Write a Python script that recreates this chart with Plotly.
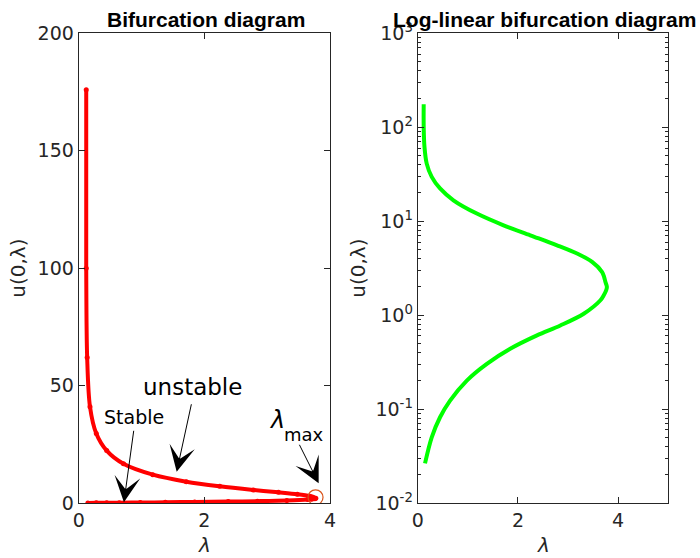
import plotly.graph_objects as go

# Branch: upper (unstable) branch -> fold -> lower (stable) branch
lam = [0.12, 0.12, 0.135, 0.18, 0.28, 0.446, 0.713, 1.18, 1.713, 2.246, 2.78,
       3.18, 3.48, 3.68, 3.72, 3.746, 3.775,
       3.76, 3.71, 3.646, 3.313, 2.846, 2.38, 1.846, 1.38, 0.98, 0.646, 0.446, 0.28, 0.146]
u0 = [176, 100, 62, 41, 29.6, 22.3, 16.7, 12.05, 9.04, 7.08, 5.54,
      4.52, 3.68, 2.87, 2.54, 2.25, 2.0,
      1.83, 1.62, 1.44, 1.035, 0.776, 0.608, 0.438, 0.303, 0.201, 0.123, 0.0818, 0.050, 0.0264]

lam_max = [3.77]
u_max = [2.4]

x_ticks_left = [0, 2, 4]
y_ticks_left = [0, 50, 100, 150, 200]
x_ticks_right = [0, 2, 4]
y_ticks_right = [0.01, 0.1, 1, 10, 100, 1000]
y_ticktext_right = ["10<sup>-2</sup>", "10<sup>-1</sup>", "10<sup>0</sup>",
                    "10<sup>1</sup>", "10<sup>2</sup>", "10<sup>3</sup>"]

FONT = "DejaVu Sans, sans-serif"
BFONT = "Liberation Sans, Arial, Helvetica, sans-serif"
AX = "#262626"

fig = go.Figure()
fig.add_trace(go.Scatter(x=lam, y=u0, mode="lines+markers",
                         line=dict(color="#FF0000", width=4, shape="spline", smoothing=0.9),
                         marker=dict(color="#FF0000", size=5),
                         xaxis="x", yaxis="y", showlegend=False))
fig.add_trace(go.Scatter(x=lam_max, y=u_max, mode="markers",
                         marker=dict(symbol="circle-open", size=15, color="#D95319",
                                     line=dict(width=1.2, color="#D95319")),
                         xaxis="x", yaxis="y", showlegend=False))
fig.add_trace(go.Scatter(x=lam, y=u0, mode="lines",
                         line=dict(color="#00FF00", width=4, shape="spline", smoothing=0.9),
                         xaxis="x2", yaxis="y2", showlegend=False))

common = dict(showline=True, linecolor=AX, linewidth=1, mirror="ticks",
              ticks="inside", ticklen=6, tickcolor=AX, showgrid=False, zeroline=False,
              automargin=False,
              tickfont=dict(family=FONT, size=19, color=AX))
tfont = dict(size=20, family=FONT, color=AX)

fig.update_layout(
    width=700, height=558,
    margin=dict(l=0, r=0, t=0, b=0),
    paper_bgcolor="white", plot_bgcolor="white",
    font=dict(family=FONT, color=AX),
    xaxis=dict(domain=[0.1124, 0.4714], range=[0, 4], tickvals=x_ticks_left,
               anchor="y", **common),
    yaxis=dict(domain=[0.0986, 0.9403], range=[0, 200], tickvals=y_ticks_left,
               title=dict(text="u(0,λ)", font=tfont, standoff=6),
               anchor="x", **common),
    xaxis2=dict(domain=[0.5967, 0.9547], range=[0, 5], tickvals=x_ticks_right,
                anchor="y2", **common),
    yaxis2=dict(domain=[0.0986, 0.9403], type="log", range=[-2, 3],
                tickvals=y_ticks_right, ticktext=y_ticktext_right,
                minor=dict(ticks="inside", ticklen=3, tickcolor=AX, dtick="D1", showgrid=False),
                title=dict(text="u(0,λ)", font=tfont, standoff=4),
                anchor="x2", **common),
)

ann = []
ann.append(dict(text="<b>Bifurcation diagram</b>", xref="paper", yref="paper",
                x=206/700, y=1-19/558, xanchor="center", yanchor="middle", showarrow=False,
                font=dict(size=21, family=BFONT, color="black")))
ann.append(dict(text="<b>Log-linear bifurcation diagram</b>", xref="paper", yref="paper",
                x=544/700, y=1-19/558, xanchor="center", yanchor="middle", showarrow=False,
                font=dict(size=21, family=BFONT, color="black")))
# x axis titles
for xc in (204/700, 543/700):
    ann.append(dict(text="<i>λ</i>", xref="paper", yref="paper", x=xc, y=1-545/558,
                    xanchor="center", yanchor="middle", showarrow=False, font=tfont))
# text labels
ann.append(dict(text="unstable", xref="x", yref="y", x=1.81, y=49.4, showarrow=False,
                font=dict(size=23, family=FONT, color="black")))
ann.append(dict(text="Stable", xref="x", yref="y", x=0.876, y=36.6, showarrow=False,
                font=dict(size=19, family=FONT, color="black")))
ann.append(dict(text="<i>λ</i>", xref="x", yref="y", x=3.16, y=35.4, showarrow=False,
                font=dict(size=24, family=FONT, color="black")))
ann.append(dict(text="max", xref="x", yref="y", x=3.59, y=29.0, showarrow=False,
                font=dict(size=18, family=FONT, color="black")))
# arrows
arrow_style = dict(text="", showarrow=True, arrowhead=3, arrowsize=4.3, arrowwidth=1,
                   arrowcolor="black", axref="pixel", ayref="pixel", standoff=0)
ann.append(dict(xref="x", yref="y", x=1.56, y=13.3, ax=15, ay=-69, **arrow_style))
ann.append(dict(xref="x", yref="y", x=0.72, y=0.3, ax=10, ay=-73, **arrow_style))
ann.append(dict(xref="x", yref="y", x=3.82, y=8.4, ax=-20, ay=-40, **arrow_style))

fig.update_layout(annotations=ann)
fig.write_html("out.html")
